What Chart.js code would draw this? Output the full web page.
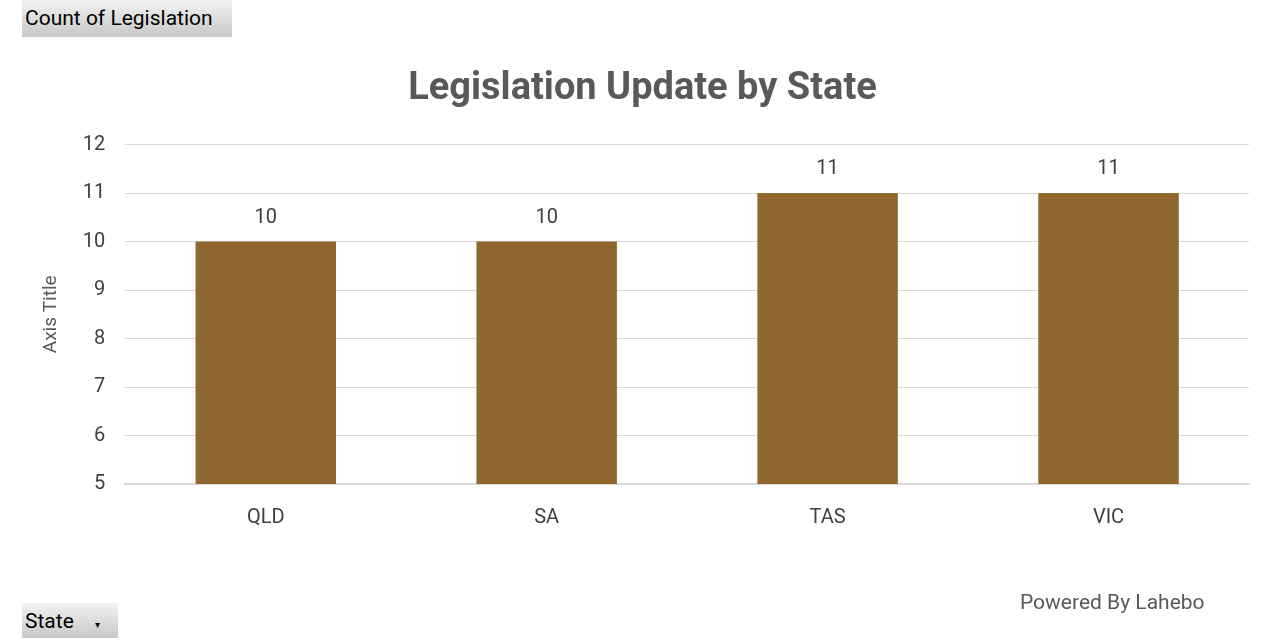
<!DOCTYPE html>
<html><head><meta charset="utf-8">
<script src="https://cdn.jsdelivr.net/npm/chart.js"></script>
<style>
body{margin:0;background:#fff;font-family:Roboto,"Noto Sans",sans-serif;}
#wrap{position:absolute;left:0;top:0;width:1280px;height:640px;}
.btn{position:absolute;background:linear-gradient(#f2f2f2,#c8c8c8);color:#000;font-size:21px;padding:6px 3px;box-sizing:border-box;}
#pw{position:absolute;left:1020px;top:590px;font-size:21px;color:#595959;}
</style></head><body>
<div id="wrap"><canvas id="c" width="1280" height="640"></canvas></div>
<div class="btn" style="left:22px;top:0;width:210px;height:37px;">Count of Legislation</div>
<div class="btn" style="left:22px;top:603px;width:96px;height:35px;">State <span style="font-size:10px;margin-left:16px">▾</span></div>
<div id="pw">Powered By Lahebo</div>
<script>
const categories=["QLD","SA","TAS","VIC"];
const counts=[10,10,11,11];
const labelPlugin={id:'lbl',afterDatasetsDraw(ch){const ctx=ch.ctx;const m=ch.getDatasetMeta(0);ctx.save();ctx.font='20px Roboto';ctx.fillStyle='#404040';ctx.textAlign='center';ctx.textBaseline='bottom';m.data.forEach((b,i)=>ctx.fillText(counts[i],b.x,b.y-14));ctx.restore();}};
new Chart(document.getElementById('c'),{type:'bar',
data:{labels:categories,datasets:[{data:counts,backgroundColor:'#8F672F',categoryPercentage:1,barPercentage:0.5}]},
options:{responsive:false,animation:false,
layout:{padding:{left:36,right:31,top:61,bottom:96}},
plugins:{legend:{display:false},tooltip:{enabled:false},
title:{display:true,text:'Legislation Update by State',color:'#595959',font:{size:38,weight:'bold',family:'Roboto'},padding:{top:6,bottom:32}}},
scales:{
x:{grid:{display:false},border:{color:'#d9d9d9',width:2},ticks:{color:'#404040',font:{size:20,family:'Roboto'},padding:14}},
y:{min:5,max:12,ticks:{stepSize:1,color:'#404040',font:{size:20,family:'Roboto'},padding:20},grid:{color:'#d9d9d9',drawTicks:false},border:{display:false},
title:{display:true,text:'Axis Title',color:'#595959',font:{size:19,family:'Roboto'},padding:{top:4,bottom:0}}}}},
plugins:[labelPlugin]});
</script></body></html>
